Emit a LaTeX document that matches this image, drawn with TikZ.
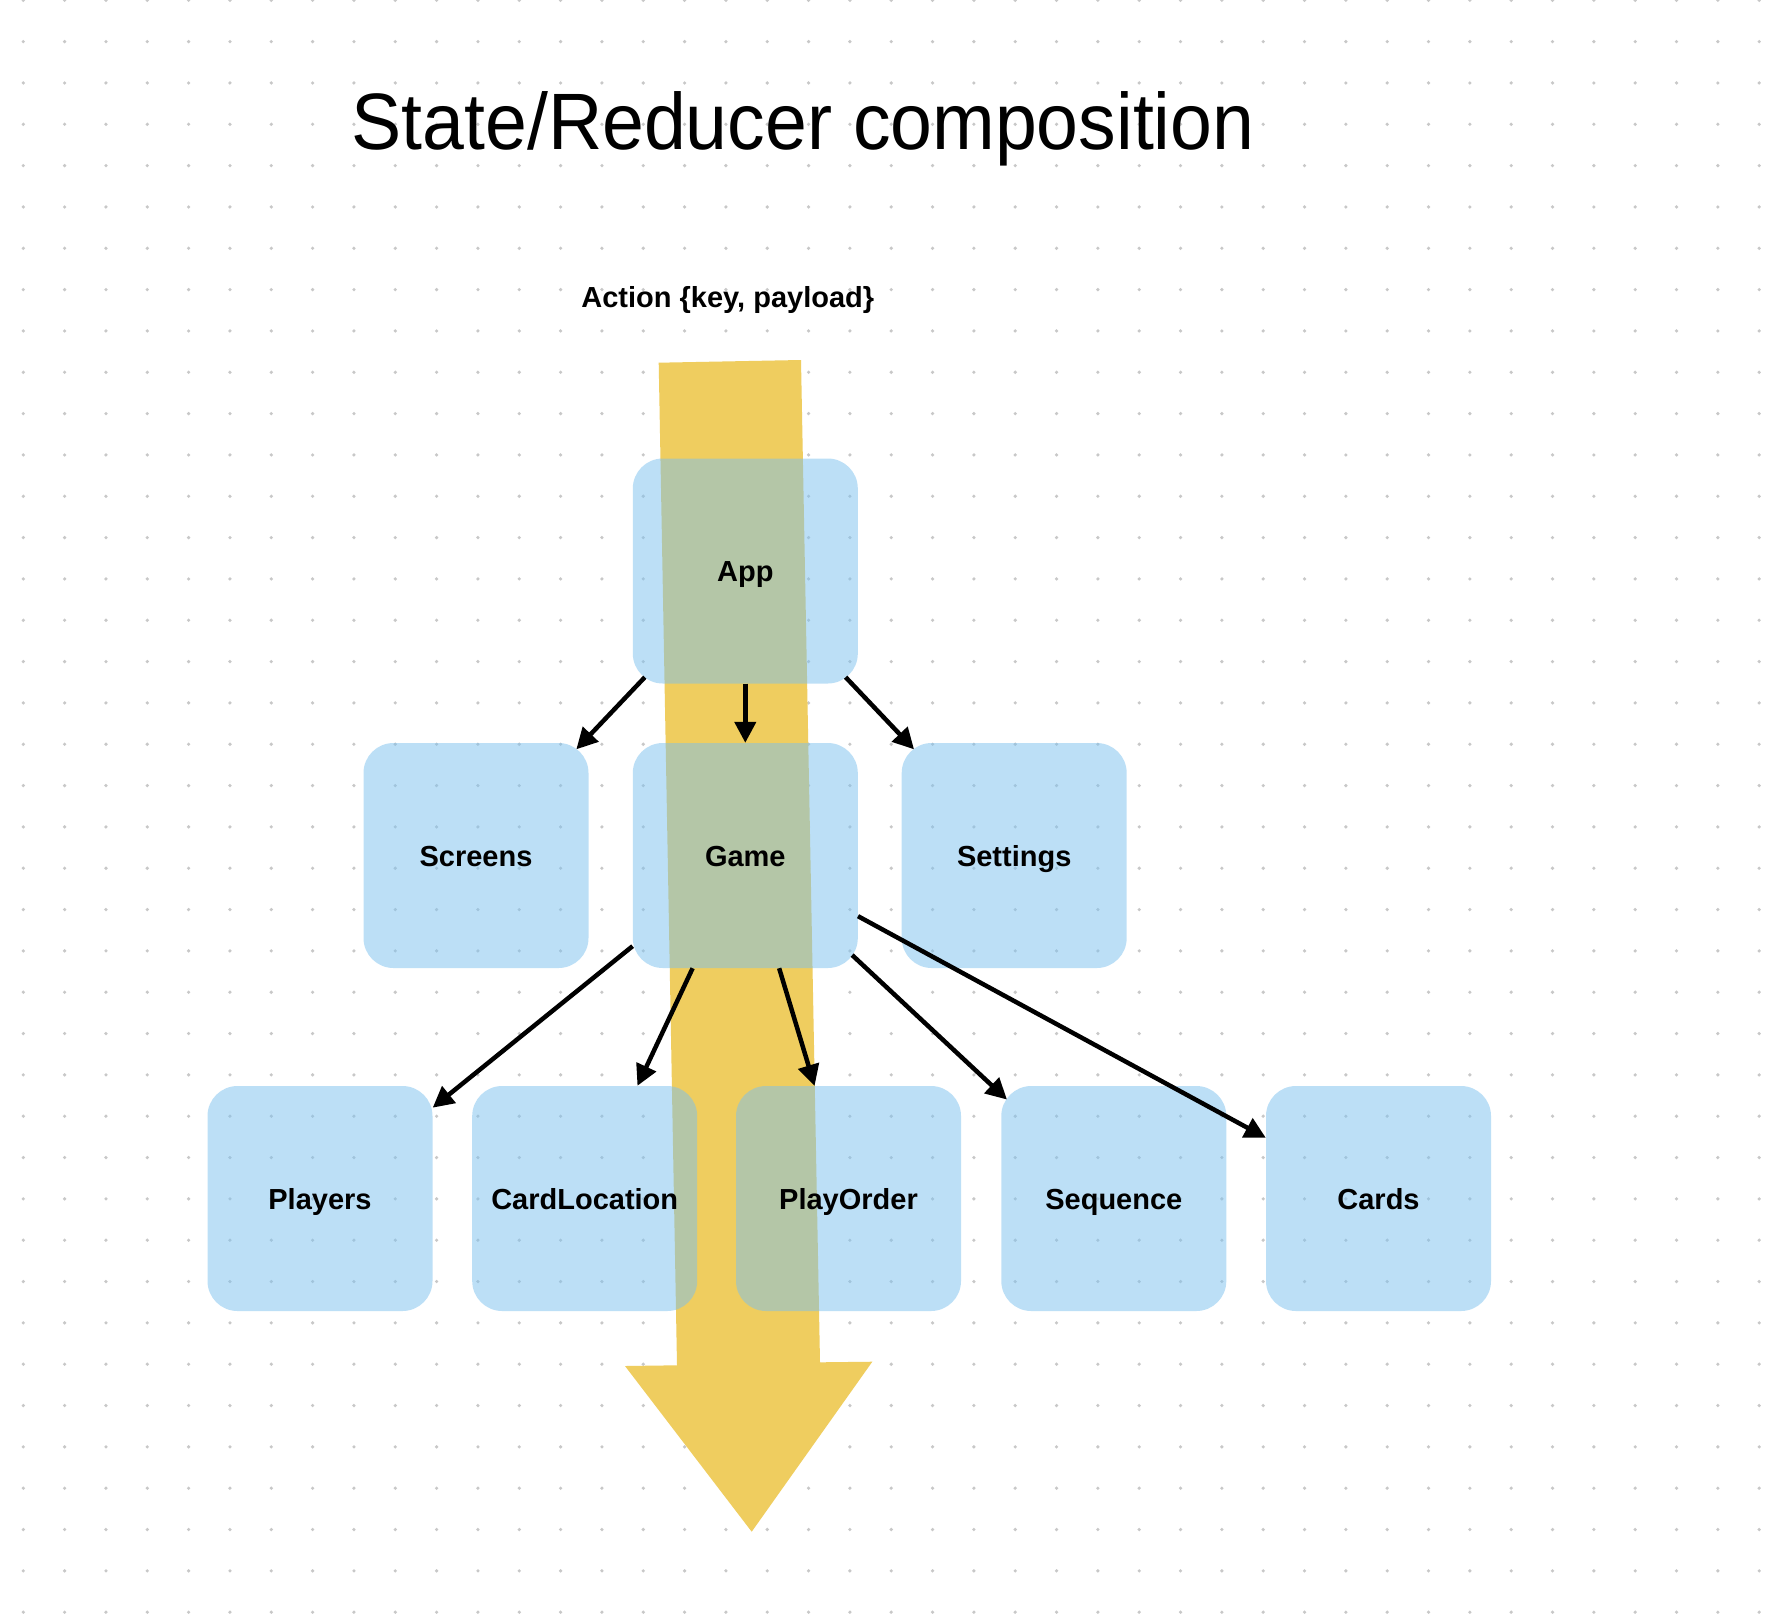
\documentclass[tikz,border=0pt]{standalone}
\usepackage{fontspec}
\setmainfont{Liberation Sans}
\usepackage{tikz}
\usetikzlibrary{arrows.meta}
\usepackage{xcolor}
\definecolor{flowyellow}{RGB}{239,205,95}
\definecolor{boxblue}{RGB}{123,193,239}
\definecolor{dotgrey}{RGB}{200,200,200}

\begin{document}
\begin{tikzpicture}[x=1pt, y=-1pt,
	box/.style={rectangle, draw=none, rounded corners=30pt, minimum size=225pt, inner sep=0pt,
		fill=boxblue, fill opacity=0.5, text opacity=1, text height=21pt, text depth=0pt,
		font=\fontsize{29}{34}\selectfont\bfseries},
	link/.style={-{Triangle[length=21pt, width=21pt]}, line width=4.5pt},
	cornerlink/.style={link, shorten <=-9pt, shorten >=-9pt}]
	\useasboundingbox[fill=white] (0,0) rectangle (1768,1614);
	% dotted canvas
	\foreach \i in {0,...,42}
		\foreach \j in {0,...,39}
			\fill[dotgrey] (23.3+41.33*\i, 0.3+41.33*\j) circle (1.8pt);
	\node (Title) at (803, 149.3) [anchor=base] {\fontsize{80}{96}\selectfont\scalebox{0.94}[1]{State/Reducer composition}};
	\node (Action) at (727.8, 307.3) [anchor=base, font=\fontsize{29}{34}\selectfont\bfseries] {Action \{key, payload\}};
	% action flow
	\fill[flowyellow] (658.7, 362.7) -- (801, 360) -- (820, 1362.3) -- (872.3, 1361.7) -- (751.7, 1531.7)
		-- (625, 1366) -- (677, 1365.3) -- cycle;
	% state tree
	\node[box] (App) at (745.3, 571) {App};
	\node[box] (Screens) at (476, 855.5) {Screens};
	\node[box] (Game) at (745.3, 855.5) {Game};
	\node[box] (Settings) at (1014.2, 855.5) {Settings};
	\node[box] (Players) at (320, 1198.5) {Players};
	\node[box] (CardLocation) at (584.7, 1198.5) {CardLocation};
	\node[box] (PlayOrder) at (848.5, 1198.5) {PlayOrder};
	\node[box] (Sequence) at (1113.8, 1198.5) {Sequence};
	\node[box] (Cards) at (1378.5, 1198.5) {Cards};
	\draw[cornerlink] (App) -- (Screens);
	\draw[link] (App) -- (Game);
	\draw[cornerlink] (App) -- (Settings);
	\draw[link] (Game) -- (Players);
	\draw[link] (Game) -- (CardLocation);
	\draw[link] (Game) -- (PlayOrder);
	\draw[cornerlink, shorten <=-8pt, shorten >=-8pt] (Game) -- (Sequence);
	\draw[link] (Game) -- (Cards);
\end{tikzpicture}
\end{document}
